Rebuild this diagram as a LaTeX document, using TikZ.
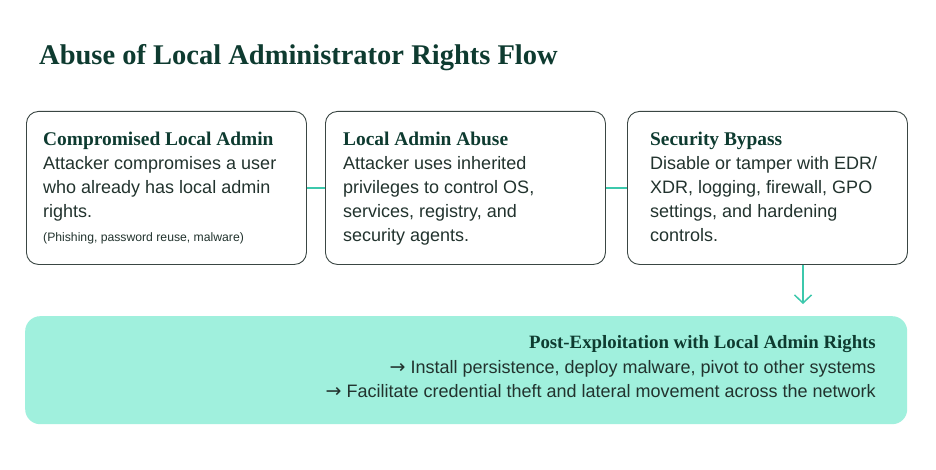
\documentclass[tikz,border=0pt]{standalone}
\usepackage{fontspec}
\setsansfont{Liberation Sans}
\newfontfamily\headserif{Liberation Serif}
\newfontfamily\arrowfont{DejaVu Sans}
\newcommand{\rarr}{{\arrowfont\fontsize{19}{20}\selectfont →}}
\usetikzlibrary{arrows.meta}
\definecolor{titlecol}{HTML}{0E3B30}
\definecolor{bodycol}{HTML}{22332E}
\definecolor{boxline}{HTML}{3A4643}
\definecolor{teal}{HTML}{3CC8AC}
\definecolor{mint}{HTML}{A0F0DD}
\tikzset{
  card/.style={draw=boxline, line width=0.9pt, rounded corners=12pt, fill=white,
    minimum width=280pt, minimum height=153pt, anchor=north west, inner sep=0pt},
  headtxt/.style={anchor=base west, inner sep=0pt, text=titlecol,
    font=\headserif\fontsize{19.4}{22}\selectfont\bfseries},
  bodytxt/.style={anchor=base west, inner sep=0pt, text=bodycol,
    font=\sffamily\fontsize{18}{22}\selectfont},
  smalltxt/.style={anchor=base west, inner sep=0pt, text=bodycol,
    font=\sffamily\fontsize{12.2}{14}\selectfont},
  link/.style={draw=teal, line width=1.5pt},
}
\begin{document}
\begin{tikzpicture}[x=1pt,y=-1pt]
\useasboundingbox[fill=white] (0,0) rectangle (936,470);
\node[anchor=base west, inner sep=0pt, text=titlecol,
  font=\headserif\fontsize{28.5}{32}\selectfont\bfseries] (title) at (39,65)
  {Abuse of Local Administrator Rights Flow};

\node[card] (b1) at (26,111) {};
\node[card] (b2) at (325,111) {};
\node[card] (b3) at (627,111) {};

\node[headtxt] (b1h) at (43,146) {Compromised Local Admin};
\node[bodytxt] (b1a) at (43,170) {Attacker compromises a user};
\node[bodytxt] (b1b) at (43,194) {who already has local admin};
\node[bodytxt] (b1c) at (43,218) {rights.};
\node[smalltxt] (b1d) at (43,241) {(Phishing, password reuse, malware)};

\node[headtxt] (b2h) at (343,146) {Local Admin Abuse};
\node[bodytxt] (b2a) at (343,170) {Attacker uses inherited};
\node[bodytxt] (b2b) at (343,194) {privileges to control OS,};
\node[bodytxt] (b2c) at (343,218) {services, registry, and};
\node[bodytxt] (b2d) at (343,242) {security agents.};

\node[headtxt] (b3h) at (650,146) {Security Bypass};
\node[bodytxt] (b3a) at (650,170) {Disable or tamper with EDR/};
\node[bodytxt] (b3b) at (650,194) {XDR, logging, firewall, GPO};
\node[bodytxt] (b3c) at (650,218) {settings, and hardening};
\node[bodytxt] (b3d) at (650,242) {controls.};

\node[fill=mint, rounded corners=15pt, minimum width=882pt, minimum height=108pt,
  anchor=north west, inner sep=0pt] (post) at (25,316) {};
\node[headtxt, anchor=base east, font=\headserif\fontsize{18.8}{22}\selectfont\bfseries] (ph) at (876,348) {Post-Exploitation with Local Admin Rights};
\node[bodytxt, anchor=base east] (pa) at (876,373) {\rarr\ Install persistence, deploy malware, pivot to other systems};
\node[bodytxt, anchor=base east] (pb) at (876,397) {\rarr\ Facilitate credential theft and lateral movement across the network};

\draw[link] (b1) -- (b2);
\draw[link] (b2) -- (b3);
\coordinate (arrowend) at (803,304);
\draw[link, -{Straight Barb[length=8pt,width=17pt,line width=1.5pt]}] (b3.south -| arrowend) -- (arrowend);
\end{tikzpicture}
\end{document}
